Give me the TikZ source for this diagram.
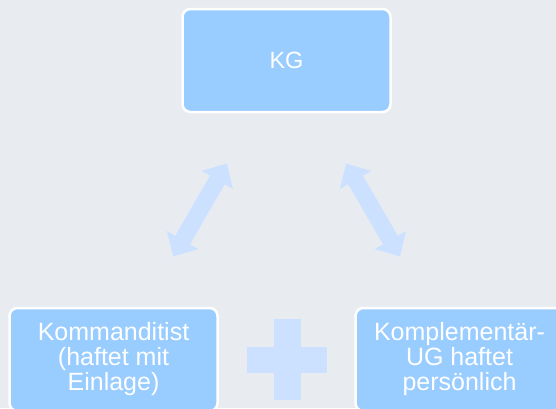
\documentclass[tikz,border=0pt]{standalone}
\usepackage{fontspec}
\setmainfont{Liberation Sans}
\usepackage{tikz}
\usetikzlibrary{positioning, calc, arrows.meta}
\definecolor{boxblue}{RGB}{153, 204, 255}
\definecolor{paleblue}{RGB}{204, 224, 255}
\definecolor{bggray}{RGB}{232, 236, 241}

\begin{document}
\begin{tikzpicture}[x=1pt, y=-1pt,
    partner/.style={rectangle, rounded corners=8pt, draw=white, line width=2.5pt, fill=boxblue, text=white, minimum width=208pt, minimum height=103pt, align=center, inner sep=0pt, font=\fontsize{25}{25}\selectfont},
    linkarrow/.style={draw=paleblue, line width=17pt, {Triangle[length=19pt,width=35pt]}-{Triangle[length=19pt,width=35pt]}, shorten <=119pt, shorten >=119pt}]
    \useasboundingbox (0,0) rectangle (556,408);
    \fill[bggray] (0,0) rectangle (556,408);

    % Gesellschaft oben, Gesellschafter unten
    \node[partner, font=\fontsize{23.5}{25}\selectfont] (kg) at (286.5,60.5) {KG};
    \node[partner] (komm) at (113.5,359.5) {Kommanditist\\(haftet mit\\Einlage)};
    \node[partner] (komp) at (459.5,359.5) {Komplementär-\\UG haftet\\persönlich};

    % Doppelpfeile zwischen KG und Gesellschaftern
    \draw[linkarrow] (kg.center) -- (komm.center);
    \draw[linkarrow] (kg.center) -- (komp.center);

    % Pluszeichen
    \coordinate (plus) at (287,359.5);
    \fill[paleblue] ($(plus)+(-13.5,-40.5)$) rectangle ($(plus)+(13.5,40.5)$);
    \fill[paleblue] ($(plus)+(-40,-13)$) rectangle ($(plus)+(40,13)$);
\end{tikzpicture}
\end{document}
